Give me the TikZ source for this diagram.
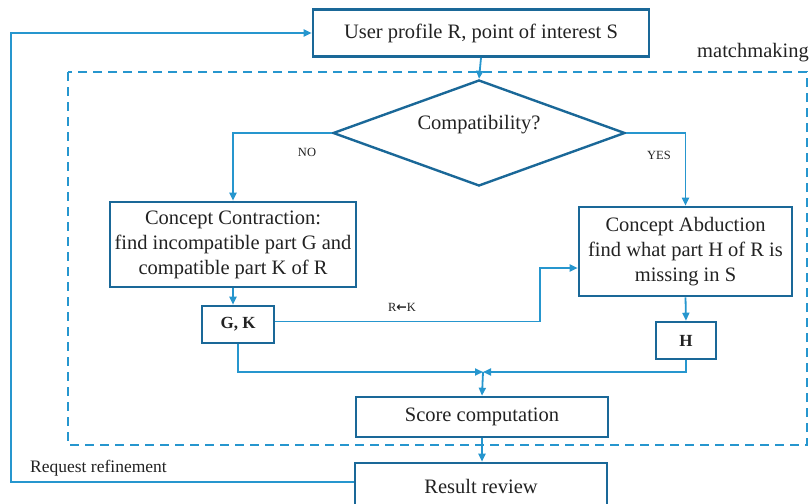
\documentclass[tikz,border=0pt]{standalone}
\usepackage{fontspec}
\setmainfont{Liberation Serif}
\newfontfamily\arrowfont{DejaVu Sans}
\usepackage{tikz}
\usepackage{xcolor}
\usetikzlibrary{shapes.geometric, arrows.meta, positioning, calc}
\definecolor{cBox}{RGB}{26,104,152}
\definecolor{cLine}{RGB}{38,150,206}
\definecolor{cText}{RGB}{34,34,34}
\tikzset{
	procbox/.style  ={rectangle, draw=cBox, line width=2.6pt, inner sep=0pt, align=center, text=cText},
	decision/.style ={diamond, draw=cBox, line width=2.4pt, inner sep=0pt, aspect=2.75, text=cText, text depth=22pt},
	resbox/.style   ={procbox, font=\fontsize{17}{20}\selectfont\bfseries},
	flowline/.style ={cLine, line width=1.8pt},
	flowarrow/.style={flowline, -{Triangle[length=8pt, width=7pt]}},
	frame/.style    ={cLine, line width=2.2pt, dash pattern=on 9pt off 6pt},
	smalllbl/.style ={text=cText, font=\fontsize{12.5}{14}\selectfont, inner sep=0pt},
}

\begin{document}
\begin{tikzpicture}[x=1pt, y=-1pt, font=\fontsize{20.5}{25}\selectfont]
	\useasboundingbox (0,0) rectangle (810,503);
	% dashed matchmaking frame
	\draw[frame] (68,72) rectangle (807,445);
	\node[text=cText, anchor=base east, inner sep=0pt] (mmlbl) at (809,57) {matchmaking};
	% boxes
	\node[procbox, minimum width=336pt, minimum height=47pt] (user) at (481,33) {User profile R, point of interest S};
	\node[decision, minimum width=292pt, minimum height=106pt] (compat) at (479,133) {Compatibility?};
	\node[procbox, minimum width=246pt, minimum height=85pt] (contr) at (233,244.5)
		{Concept Contraction:\\find incompatible part G and\\compatible part K of R};
	\node[procbox, minimum width=213pt, minimum height=89pt] (abd) at (685.5,251.5)
		{Concept Abduction\\find what part H of R is\\missing in S};
	\node[resbox, minimum width=72pt, minimum height=37pt] (gk) at (238,324.5) {G, K};
	\node[resbox, minimum width=60pt, minimum height=37pt] (h) at (686,340.5) {H};
	\node[procbox, minimum width=252pt, minimum height=40pt] (score) at (482,417) {Score computation};
	\node[procbox, minimum width=252pt, minimum height=46pt] (result) at (481,486) {Result review};
	% helper points
	\coordinate (bend) at (540,268);
	\coordinate (merge) at (483,372);
	\coordinate (loop) at (11,33);
	% connectors
	\draw[flowarrow] (user.south) -- (compat.north);
	\draw[flowarrow] (compat.west) -| (contr.north);
	\draw[flowarrow] (compat.east) -| (abd.north);
	\node[smalllbl] (nolbl) at (307,152) {NO};
	\node[smalllbl] (yeslbl) at (659,155) {YES};
	\draw[flowarrow] (contr.south) -- (contr.south |- gk.north);
	\draw[flowarrow] (abd.south) -- (h.north);
	\draw[flowarrow] ([yshift=3pt]gk.east) -| (bend) -- (bend -| abd.west);
	\node[smalllbl] (rklbl) at (402,307) {R{\arrowfont\bfseries ←}K};
	\draw[flowarrow] (gk.south) |- (merge);
	\draw[flowarrow] (h.south) |- (merge);
	\draw[flowarrow] (merge) -- (score.north);
	\draw[flowarrow] (score.south) -- (score.south |- result.north);
	\draw[flowarrow] ([yshift=4pt]result.west) -| (loop) -- (user.west);
	\node[text=cText, anchor=base west, inner sep=0pt, font=\fontsize{17.5}{20}\selectfont] (reflbl) at (30,472) {Request refinement};
\end{tikzpicture}
\end{document}
